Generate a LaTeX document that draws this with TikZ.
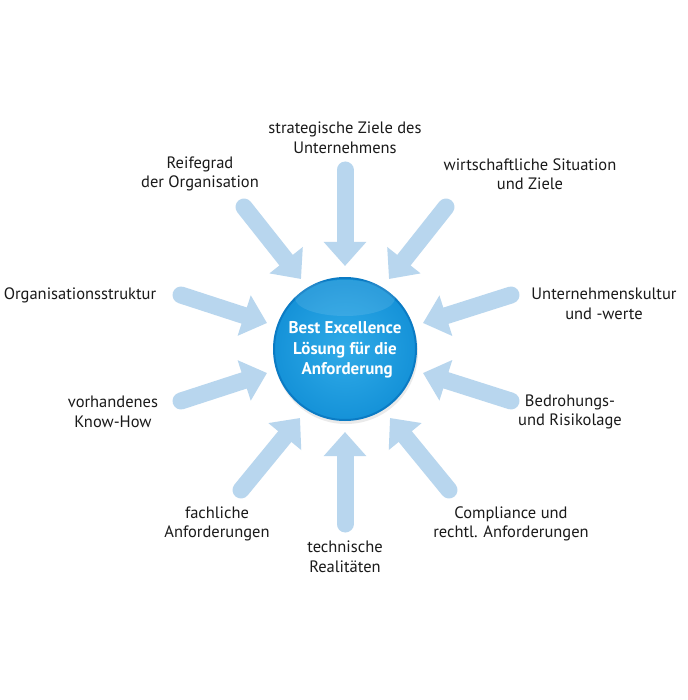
\documentclass[tikz,border=0pt]{standalone}
\usepackage{fontspec}
\setmainfont{PT Sans}
\usetikzlibrary{arrows.meta,shadings}
\definecolor{arrowblue}{HTML}{B8D6EE}
\definecolor{hubin}{HTML}{30ABE8}
\definecolor{hubout}{HTML}{1592D8}
\definecolor{hubrim}{HTML}{0B7BC4}
\definecolor{txt}{HTML}{1A1A1A}
\tikzset{
  feed/.style={draw=arrowblue, line width=17pt, line cap=round,
    -{Triangle[width=41pt,length=24pt]}, shorten >=0pt},
  lbl/.style={align=center, font=\fontsize{16.5}{19.5}\selectfont, text=txt, inner sep=0pt},
}
\begin{document}
\begin{tikzpicture}[x=1pt,y=-1pt]
\useasboundingbox[fill=white] (0,0) rectangle (687,700);
% arrow coordinates
\coordinate (t1) at (345,170); \coordinate (p1) at (345,266);
\coordinate (t2) at (244,207); \coordinate (p2) at (301,279);
\coordinate (t3) at (446,207); \coordinate (p3) at (389,279);
\coordinate (t4) at (181,295); \coordinate (p4) at (267,323);
\coordinate (t5) at (511,295); \coordinate (p5) at (423,323);
\coordinate (t6) at (181,401); \coordinate (p6) at (267,373);
\coordinate (t7) at (511,401); \coordinate (p7) at (423,373);
\coordinate (t8) at (241,490); \coordinate (p8) at (300,418);
\coordinate (t9) at (449,490); \coordinate (p9) at (390,418);
\coordinate (t10) at (345,524); \coordinate (p10) at (345,432);
\foreach \i in {1,...,10}{\draw[feed] (t\i) -- (p\i);}
% hub
\fill[black!20,opacity=0.4] (346,352) circle (72);
\node[circle, minimum size=142pt, inner sep=0pt, draw=hubrim, line width=2pt,
  inner color=hubin, outer color=hubout] (hub) at (345,349) {};
\fill[white,opacity=0.10] (345,298) ellipse (50 and 18);
\node[align=center, text=white, font=\fontsize{17}{20.5}\bfseries\selectfont] (hubtxt) at (345,350)
  {Best Excellence\\Lösung für die\\\ Anforderung};
% labels
\node[lbl] (l1) at (345,138) {strategische Ziele des\\Unternehmens};
\node[lbl] (l2) at (200,174) {Reifegrad\\der Organisation};
\node[lbl] (l3) at (530,174) {wirtschaftliche Situation\\und Ziele};
\node[lbl] (l4) at (80,295) {Organisationsstruktur};
\node[lbl] (l5) at (604,304) {Unternehmenskultur\\und -werte};
\node[lbl] (l6) at (113,412) {vorhandenes\\Know-How};
\node[lbl] (l7) at (570,412) {Bedrohungs-\\und Risikolage};
\node[lbl] (l8) at (217,524) {fachliche\\Anforderungen};
\node[lbl] (l9) at (345,557) {technische\\Realitäten};
\node[lbl] (l10) at (511,524) {Compliance und\\rechtl. Anforderungen};
\end{tikzpicture}
\end{document}
